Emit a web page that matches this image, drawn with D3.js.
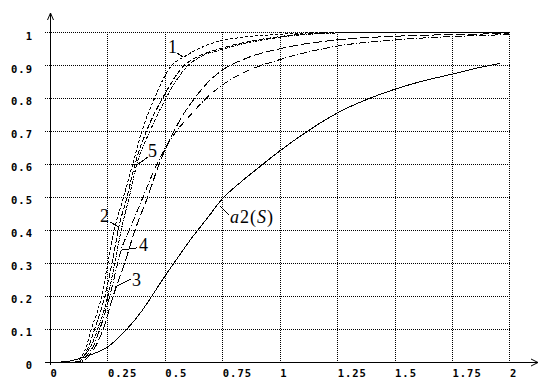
<!DOCTYPE html>
<html><head><meta charset="utf-8">
<script src="https://cdn.jsdelivr.net/npm/d3@7"></script>
<style>
html,body{margin:0;padding:0;background:#fff;}
svg{display:block;}
</style></head>
<body>
<svg id="chart" width="544" height="384"></svg>
<script>
// ---- data ----
const xTickValues = [0, 0.25, 0.5, 0.75, 1, 1.25, 1.5, 1.75, 2];
const xTickLabels = ["0", "0.25", "0.5", "0.75", "1", "1.25", "1.5", "1.75", "2"];
const yTickValues = [0, 0.1, 0.2, 0.3, 0.4, 0.5, 0.6, 0.7, 0.8, 0.9, 1];
const yTickLabels = ["0", "0.1", "0.2", "0.3", "0.4", "0.5", "0.6", "0.7", "0.8", "0.9", "1"];

const series1 = [[0,0],[0.11,0],[0.14,0.02],[0.16,0.05],[0.18,0.1],[0.205,0.15],[0.225,0.2],[0.252,0.3],[0.28,0.4],[0.32,0.5],[0.36,0.6],[0.4,0.7],[0.455,0.8],[0.53,0.9],[0.58,0.924],[0.65,0.951],[0.75,0.975],[1,0.994],[1.25,1],[2,1]];
const series2 = [[0,0],[0.12,0],[0.15,0.02],[0.17,0.05],[0.195,0.1],[0.239,0.2],[0.27,0.3],[0.3,0.41],[0.335,0.5],[0.37,0.6],[0.42,0.7],[0.49,0.8],[0.585,0.9],[0.64,0.925],[0.75,0.952],[1,0.987],[1.25,0.999],[1.4,1],[2,1]];
const series3 = [[0,0],[0.14,0],[0.17,0.02],[0.2,0.05],[0.232,0.1],[0.275,0.2],[0.325,0.3],[0.37,0.4],[0.425,0.5],[0.475,0.6],[0.54,0.7],[0.565,0.733],[0.63,0.8],[0.69,0.85],[0.75,0.885],[0.85,0.92],[1,0.95],[1.25,0.977],[1.5,0.988],[1.75,0.993],[2,0.996]];
const series4 = [[0,0],[0.13,0],[0.16,0.02],[0.19,0.05],[0.217,0.1],[0.26,0.2],[0.295,0.3],[0.31,0.34],[0.345,0.4],[0.405,0.5],[0.465,0.6],[0.55,0.7],[0.6,0.74],[0.68,0.8],[0.75,0.84],[0.85,0.88],[1,0.917],[1.25,0.958],[1.5,0.977],[1.75,0.987],[2,0.993]];
const series5 = [[0,0],[0.12,0],[0.15,0.02],[0.18,0.05],[0.208,0.1],[0.252,0.2],[0.282,0.3],[0.31,0.4],[0.345,0.5],[0.378,0.6],[0.435,0.7],[0.505,0.8],[0.595,0.895],[0.64,0.92],[0.75,0.948],[1,0.985],[1.25,0.998],[1.4,1],[2,1]];
const seriesA2 = [[0,0],[0.05,0],[0.1,0.005],[0.15,0.015],[0.2,0.028],[0.25,0.045],[0.3,0.075],[0.335,0.1],[0.4,0.155],[0.434,0.19],[0.5,0.26],[0.564,0.324],[0.6,0.36],[0.7,0.45],[0.738,0.485],[0.838,0.55],[0.9,0.585],[1,0.64],[1.1,0.69],[1.25,0.755],[1.43,0.81],[1.5,0.827],[1.6,0.848],[1.75,0.873],[1.85,0.89],[1.96,0.906]];

// curve labels: text position and pointer (data units)
const labelTexts = ["1", "2", "3", "4", "5"];
const labelPos = [[0.514,0.937],[0.218,0.425],[0.357,0.23],[0.387,0.337],[0.427,0.622]];
const labelPointers = [
  [[0.553,0.937],[0.579,0.925]],
  [[0.261,0.425],[0.300,0.409]],
  [[0.353,0.252],[0.283,0.227]],
  [[0.379,0.346],[0.313,0.340]],
  [[0.427,0.622],[0.379,0.598]]
];
const a2LabelPos = [0.784, 0.422];
const a2Pointer = [[0.779,0.446],[0.740,0.473]];

// ---- drawing ----
const svg = d3.select("#chart");
const x = d3.scaleLinear().domain([0, 2]).range([50, 509.4]);
const y = d3.scaleLinear().domain([0, 1]).range([362, 32.3]);

const grid = svg.append("g").attr("shape-rendering", "crispEdges")
  .attr("stroke", "#000").attr("stroke-width", 1).attr("stroke-dasharray", "1,1");
grid.selectAll("line.h").data(yTickValues.filter(v => v > 0)).join("line")
  .attr("class", "h")
  .attr("x1", 45).attr("x2", x(2) + 0.5)
  .attr("y1", d => Math.round(y(d)) + 0.5).attr("y2", d => Math.round(y(d)) + 0.5);
grid.selectAll("line.v").data(xTickValues.filter(v => v > 0)).join("line")
  .attr("class", "v")
  .attr("y1", y(1)).attr("y2", y(0))
  .attr("x1", d => Math.round(x(d)) + 0.5).attr("x2", d => Math.round(x(d)) + 0.5);

// curves
const line = d3.line().x(d => x(d[0])).y(d => y(d[1])).curve(d3.curveMonotoneX);
const curves = [
  {data: series1, dash: "3,2"},
  {data: series2, dash: "5,2"},
  {data: series3, dash: "9,3"},
  {data: series4, dash: "7,2,1,2"},
  {data: series5, dash: "3,1,1,1"},
  {data: seriesA2, dash: null}
];
svg.append("g").attr("shape-rendering", "crispEdges").selectAll("path").data(curves).join("path")
  .attr("d", d => line(d.data))
  .attr("fill", "none").attr("stroke", "#000").attr("stroke-width", 1)
  .attr("stroke-dasharray", d => d.dash);

// axes lines with arrows
const ax = svg.append("g").attr("stroke", "#000").attr("stroke-width", 1).attr("fill", "none");
ax.append("line").attr("x1", 45).attr("x2", 538).attr("y1", y(0) + 0.5).attr("y2", y(0) + 0.5).attr("shape-rendering", "crispEdges");
ax.append("line").attr("x1", x(0) + 0.5).attr("x2", x(0) + 0.5).attr("y1", y(0) + 3).attr("y2", 13).attr("shape-rendering", "crispEdges");
ax.append("path").attr("d", `M531,359 L538,${y(0) + 0.5} L531,366`);
ax.append("path").attr("d", `M47.5,20 L${x(0) + 0.5},13 L53.5,20`);

// tick labels via axes
const tickFont = g => g.attr("font-family", "'DejaVu Sans Mono', monospace")
  .attr("font-weight", "bold").attr("font-size", 10.5);
const yAxis = d3.axisLeft(y).tickValues(yTickValues).tickSize(0).tickPadding(17)
  .tickFormat((d, i) => yTickLabels[i]);
svg.append("g").attr("transform", `translate(${x(0)},0)`).call(yAxis)
  .call(tickFont)
  .call(g => g.select(".domain").remove())
  .call(g => g.selectAll("text").attr("dy", "0.64em").attr("fill", "#000")
    .style("letter-spacing", "1px"));
const xAxis = d3.axisBottom(x).tickValues(xTickValues).tickSize(0).tickPadding(8)
  .tickFormat((d, i) => xTickLabels[i]);
svg.append("g").attr("transform", `translate(0,${y(0)})`).call(xAxis)
  .call(tickFont)
  .call(g => g.select(".domain").remove())
  .call(g => g.selectAll("text").attr("text-anchor", "start").attr("fill", "#000")
    .style("letter-spacing", "1px"));

// curve labels
const lbl = svg.append("g").attr("font-family", "'Liberation Serif', 'Times New Roman', serif")
  .attr("font-size", 18).attr("fill", "#000");
lbl.selectAll("text").data(labelTexts).join("text")
  .attr("x", (d, i) => x(labelPos[i][0])).attr("y", (d, i) => y(labelPos[i][1]))
  .text(d => d);
svg.append("g").attr("stroke", "#000").attr("stroke-width", 1).attr("shape-rendering", "crispEdges")
  .selectAll("line").data(labelPointers.concat([a2Pointer])).join("line")
  .attr("x1", d => x(d[0][0])).attr("y1", d => y(d[0][1]))
  .attr("x2", d => x(d[1][0])).attr("y2", d => y(d[1][1]));

const a2 = svg.append("text")
  .attr("font-family", "'Liberation Serif', 'Times New Roman', serif")
  .attr("font-size", 18).attr("fill", "#000")
  .attr("x", x(a2LabelPos[0])).attr("y", y(a2LabelPos[1]))
  .style("letter-spacing", "1px");
a2.append("tspan").attr("font-style", "italic").text("a");
a2.append("tspan").text("2(");
a2.append("tspan").attr("font-style", "italic").text("S");
a2.append("tspan").text(")");
</script>
</body></html>
